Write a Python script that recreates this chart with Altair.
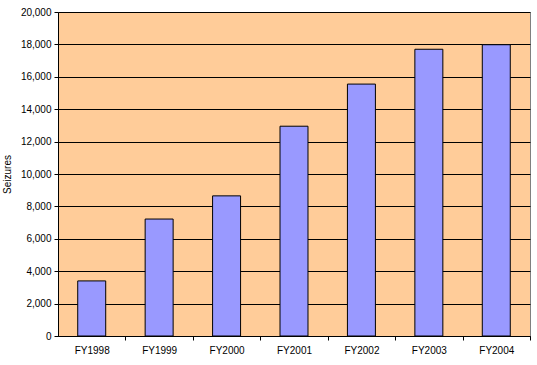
import altair as alt
import pandas as pd

years = ["FY1998", "FY1999", "FY2000", "FY2001", "FY2002", "FY2003", "FY2004"]
seizures = [3400, 7220, 8650, 12950, 15550, 17700, 17980]

df = pd.DataFrame({"year": years, "seizures": seizures})

FONT = "Liberation Sans"
PLOT_W = 472
STEP = PLOT_W / len(years)

chart = alt.Chart(df).mark_bar(
    color="#9999FF", stroke="#000000", strokeWidth=1
).encode(
    x=alt.X(
        "year:N",
        sort=years,
        title=None,
        scale=alt.Scale(paddingInner=0.585, paddingOuter=0.2925),
        axis=alt.Axis(
            labelAngle=0, labelFont=FONT, labelFontSize=10, labelColor="#000000",
            ticks=True, tickSize=4, tickColor="#000000",
            tickWidth=1, tickOffset=STEP / 2, labelOffset=-STEP / 2,
            domainColor="#000000", labelPadding=5, grid=False,
            labelLimit=0,
        ),
    ),
    y=alt.Y(
        "seizures:Q",
        title="Seizures",
        scale=alt.Scale(domain=[0, 20000], nice=False),
        axis=alt.Axis(
            values=list(range(0, 20001, 2000)), format=",.0f",
            labelFont=FONT, labelFontSize=10, labelColor="#000000",
            titleFont=FONT, titleFontSize=10, titleFontWeight="normal",
            titleColor="#000000", titlePadding=8,
            tickSize=4, tickColor="#000000", domainColor="#000000",
            labelPadding=3, grid=True, gridColor="#000000", gridOpacity=1,
            gridWidth=1,
        ),
    ),
).properties(
    width=PLOT_W,
    height=324,
    autosize=alt.AutoSizeParams(type="none"),
    padding={"left": 58, "top": 12, "right": 7, "bottom": 29},
    background="#FFFFFF",
).configure_view(
    fill="#FFCC99", stroke="#808080", strokeWidth=1
)

chart.save("out.html", embed_options={"renderer": "svg", "actions": False})
